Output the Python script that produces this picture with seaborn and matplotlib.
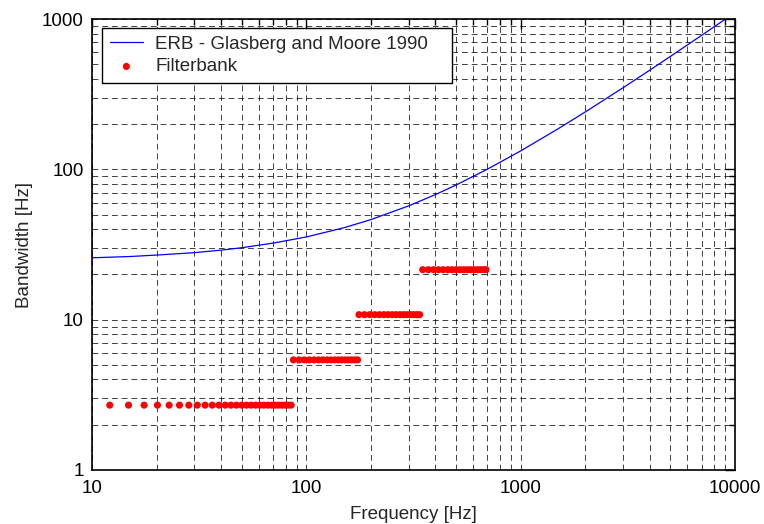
import numpy as np
import pandas as pd
import matplotlib
matplotlib.use("Agg")
import matplotlib.pyplot as plt
import seaborn as sns
from matplotlib.ticker import LogLocator, FixedLocator, FixedFormatter, NullFormatter

# ERB curve
erb_freq = [10, 15, 20, 30, 40, 50, 70, 100, 150, 200, 300, 400, 500, 700,
            1000, 1500, 2000, 3000, 4000, 5000, 7000, 9000]
erb_bw = [25.8, 26.3, 26.9, 27.9, 29.0, 30.1, 32.3, 35.5, 40.9, 46.3, 57.1, 67.9,
          78.7, 100.3, 132.6, 186.6, 240.6, 348.5, 456.5, 564.4, 780.3, 996.2]

# Filterbank points
fb1_freq = [12.1, 14.8, 17.5, 20.2, 22.9, 25.6, 28.3, 31.0, 33.7, 36.4, 39.1, 41.8,
            44.5, 47.2, 49.9, 52.6, 55.3, 58.0, 60.7, 63.4, 66.1, 68.8, 71.5, 74.2,
            76.9, 79.6, 82.3, 85.0]
fb1_bw = 2.7
fb2_freq = [87.0, 92.4, 97.8, 103.2, 108.6, 114.0, 119.4, 124.8, 130.2, 135.6,
            141.0, 146.4, 151.8, 157.2, 162.6, 168.0, 173.4]
fb2_bw = 5.4
fb3_freq = [176.0, 186.8, 197.6, 208.4, 219.2, 230.0, 240.8, 251.6, 262.4, 273.2,
            284.0, 294.8, 305.6, 316.4, 327.2, 338.0]
fb3_bw = 10.8
fb4_freq = [349.0, 370.6, 392.2, 413.8, 435.4, 457.0, 478.6, 500.2, 521.8, 543.4,
            565.0, 586.6, 608.2, 629.8, 651.4, 673.0, 689.0]
fb4_bw = 21.5

x_ticks = [10, 100, 1000, 10000]
x_labels = ["10", "100", "1000", "10000"]
y_ticks = [1, 10, 100, 1000]
y_labels = ["1", "10", "100", "1000"]

FS = 13.5
sns.set_style("white")
plt.rcParams['font.family'] = ['Liberation Sans', 'DejaVu Sans']
plt.rcParams['font.size'] = FS

fb_f = fb1_freq + fb2_freq + fb3_freq + fb4_freq
fb_b = ([fb1_bw] * len(fb1_freq) + [fb2_bw] * len(fb2_freq) +
        [fb3_bw] * len(fb3_freq) + [fb4_bw] * len(fb4_freq))
df_fb = pd.DataFrame({"f": fb_f, "bw": fb_b})
df_erb = pd.DataFrame({"f": erb_freq, "bw": erb_bw})

fig = plt.figure(figsize=(7.64, 5.24), dpi=100)
ax = fig.add_axes([92 / 764, 1 - 470 / 524, (735 - 92) / 764, (470 - 19) / 524])

ax.set_xscale("log")
ax.set_yscale("log")
ax.set_xlim(10, 10000)
ax.set_ylim(1, 1000)

# grid
ax.grid(True, which="both", color="black", linestyle=(0, (6, 4)), linewidth=0.7, alpha=0.75)
ax.set_axisbelow(True)

sns.lineplot(data=df_erb, x="f", y="bw", ax=ax, color="#0000ff", linewidth=0.9,
             label="ERB - Glasberg and Moore 1990")
sns.scatterplot(data=df_fb, x="f", y="bw", ax=ax, color="#ff0000", s=26,
                edgecolor="none", label="Filterbank", zorder=3)

ax.xaxis.set_major_locator(FixedLocator(x_ticks))
ax.xaxis.set_major_formatter(FixedFormatter(x_labels))
ax.yaxis.set_major_locator(FixedLocator(y_ticks))
ax.yaxis.set_major_formatter(FixedFormatter(y_labels))
ax.xaxis.set_minor_locator(LogLocator(base=10, subs=np.arange(2, 10)))
ax.yaxis.set_minor_locator(LogLocator(base=10, subs=np.arange(2, 10)))
ax.xaxis.set_minor_formatter(NullFormatter())
ax.yaxis.set_minor_formatter(NullFormatter())

ax.tick_params(which="both", direction="in", top=True, right=True, colors="black",
               labelsize=FS)
ax.tick_params(which="major", length=7, width=1.0)
ax.tick_params(which="minor", length=4, width=1.0)
ax.tick_params(axis="x", which="major", pad=7)
ax.tick_params(axis="y", which="major", pad=6)
for s in ax.spines.values():
    s.set_color("black")
    s.set_linewidth(1.2)

ax.set_xlabel("Frequency [Hz]", fontsize=FS, labelpad=7)
ax.set_ylabel("Bandwidth [Hz]", fontsize=FS, labelpad=6)

leg = ax.legend(loc="upper left", bbox_to_anchor=(10 / 643, 0, 350 / 643, 1 - 9 / 451),
                mode="expand", borderaxespad=0, frameon=True, fancybox=False, fontsize=FS,
                edgecolor="black", framealpha=1, handlelength=1.8,
                borderpad=0.4, labelspacing=0.3, handletextpad=0.65)
leg.get_frame().set_linewidth(1.0)

fig.savefig("out.png", dpi=100)
